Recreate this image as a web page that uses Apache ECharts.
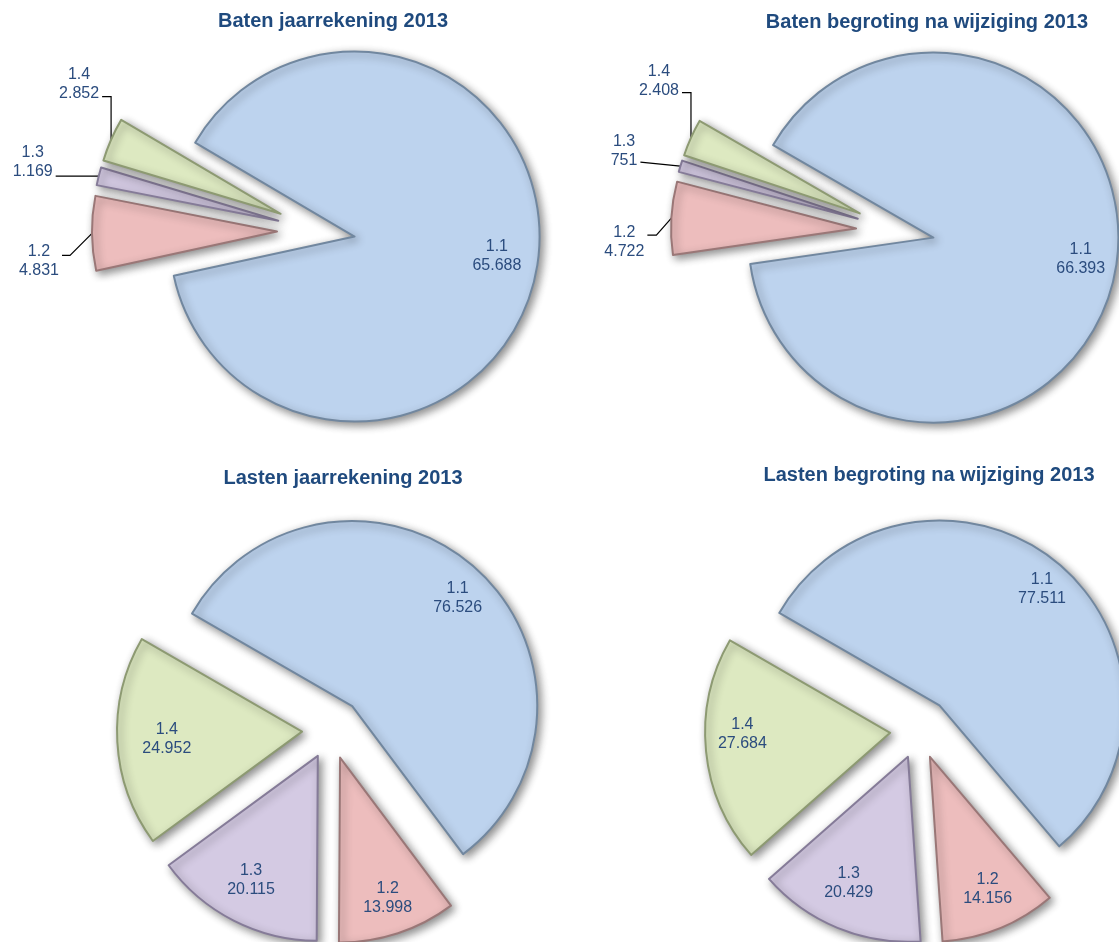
<!DOCTYPE html>
<html><head><meta charset="utf-8">
<script src="https://cdn.jsdelivr.net/npm/echarts@6/dist/echarts.min.js"></script>
<style>html,body{margin:0;padding:0;background:#fff}#c{width:1119px;height:942px}</style>
</head><body><div id="c"></div>
<script>
// ---- data ----
const categories = ['1.1', '1.2', '1.3', '1.4'];
const batenJaarrekening = [65688, 4831, 1169, 2852];
const batenBegroting = [66393, 4722, 751, 2408];
const lastenJaarrekening = [76526, 13998, 20115, 24952];
const lastenBegroting = [77511, 14156, 20429, 27684];
const titles = ['Baten jaarrekening 2013', 'Baten begroting na wijziging 2013',
                'Lasten jaarrekening 2013', 'Lasten begroting na wijziging 2013'];

// ---- style ----
const fills = ['#BDD3EE', '#EDBDBD', '#D4CAE3', '#DDE9C1'];
const rims = ['#71879F', '#9A7777', '#857B98', '#8D9A72'];
const textColor = '#2B4C7E';
const titleColor = '#1F4A7E';
const FONT = '"Liberation Sans", Arial, sans-serif';
const R = 185;

function fmt(v) { return String(v).replace(/\B(?=(\d{3})+(?!\d))/g, '.'); }

// leader-line shapes (Excel style elbows) for the small outside labels
const leadersTL = { 1: { seg: [[-22, 22], [-8, 0]], ty: 6 }, 2: { seg: [[-43, 0]], ty: -14 }, 3: { seg: [[0, -43], [-9, 0]], ty: -13 } };
const leadersTR = { 1: { seg: [[-15, 17], [-9, 0]], ty: 7 }, 2: { seg: [[-40, -4]], ty: -11 }, 3: { seg: [[0, -45], [-9, 0]], ty: -12 } };

const pies = [
  { values: batenJaarrekening, title: titles[0], titleX: 328, titleY: 6, center: [320, 231], start: 149.5, mainOff: 35, restOff: 43, leaders: leadersTL, mainK: 0.79, restK: 0.78,
    nudge: [[-2, -4], [0, 0], [0, 0], [0, 0]] },
  { values: batenBegroting, title: titles[1], titleX: 922, titleY: 7, center: [899, 231], start: 150, mainOff: 35, restOff: 43, leaders: leadersTR, mainK: 0.80, restK: 0.78,
    nudge: [[2, -7], [0, 0], [0, 0], [0, 0]] },
  { values: lastenJaarrekening, title: titles[2], titleX: 338, titleY: 463, center: [331, 730], start: 150, mainOff: 32, restOff: 29, leaders: null, mainK: 0.85, restK: 0.77,
    nudge: [[1, 10], [3, 5], [-2, -3], [7, 0]] },
  { values: lastenBegroting, title: titles[3], titleX: 924, titleY: 460, center: [919, 730], start: 150, mainOff: 32, restOff: 29, leaders: null, mainK: 0.84, restK: 0.77,
    nudge: [[3, 3], [4, 0], [-5, -5], [-6, -13]] }
];

function midAngles(values, start) {
  const total = values.reduce((a, b) => a + b, 0);
  let acc = 0;
  return values.map(v => {
    const m = start - (acc + v / 2) / total * 360;
    acc += v;
    return m * Math.PI / 180;
  });
}

function pieSeries(p, group) {
  const mids = midAngles(p.values, p.start);
  const off = group === 'main' ? p.mainOff : p.restOff;
  const data = categories.map((c, i) => {
    const mine = group === 'main' ? i === 0 : i > 0;
    const item = { name: c, value: p.values[i] };
    if (!mine) {
      item.itemStyle = { color: 'rgba(0,0,0,0)', borderWidth: 0, shadowBlur: 0, shadowColor: 'rgba(0,0,0,0)' };
      item.label = { show: false };
      item.labelLine = { show: false };
    } else {
      item.selected = true;
      item.itemStyle = { color: fills[i], borderColor: rims[i] };
      if (p.leaders && p.leaders[i]) {
        item.label = { position: 'outside' };
        item.labelLine = { show: true, length: 10, length2: 5 };
      }
    }
    return item;
  });
  const k = group === 'main' ? p.mainK : p.restK;
  return {
    type: 'pie', center: p.center, radius: [0, R], startAngle: p.start, clockwise: true,
    selectedMode: 'multiple', selectedOffset: off,
    animation: false, avoidLabelOverlap: false, silent: true,
    emphasis: { disabled: true },
    itemStyle: { borderWidth: 2, shadowBlur: 8, shadowOffsetX: 3, shadowOffsetY: 3, shadowColor: 'rgba(0,0,0,0.45)' },
    label: {
      show: true, position: 'inside',
      formatter: prm => prm.name + '\n' + fmt(prm.value),
      color: textColor, fontSize: 16, lineHeight: 19, fontFamily: FONT, align: 'center'
    },
    labelLine: { show: false, lineStyle: { color: '#000', width: 1.2 } },
    labelLayout: function (prm) {
      const i = prm.dataIndex;
      const m = mids[i];
      const ux = Math.cos(m), uy = -Math.sin(m);
      if (p.leaders && p.leaders[i]) {
        const L = p.leaders[i];
        // guide line and label live in the slice's own (unexploded) frame
        const px = p.center[0] + R * ux, py = p.center[1] + R * uy;
        const pts = [[px, py]];
        let x = px, y = py;
        L.seg.forEach(s => { x += s[0]; y += s[1]; pts.push([x, y]); });
        const r = prm.labelRect;
        const tx = x - 3 - r.width / 2;
        const ty = y + L.ty;
        // default anchor is the right edge (right-aligned); switch to centred lines
        return { dx: tx - (r.x + r.width), dy: ty - (r.y + r.height / 2), align: 'center', labelLinePoints: pts };
      }
      const shift = k * R - (R / 2 + 3);
      const n = p.nudge[i];
      return { dx: shift * ux + n[0], dy: shift * uy + n[1] };
    },
    data: data
  };
}

const series = [];
const title = [];
pies.forEach(p => {
  series.push(pieSeries(p, 'main'));
  series.push(pieSeries(p, 'rest'));
  title.push({
    text: p.title, left: p.titleX, top: p.titleY, textAlign: 'center',
    textStyle: { fontSize: 20, fontWeight: 'bold', color: titleColor, fontFamily: FONT }
  });
});

const chart = echarts.init(document.getElementById('c'), null, { renderer: 'canvas' });
chart.setOption({ backgroundColor: '#fff', animation: false, title: title, series: series });
</script>
</body></html>
